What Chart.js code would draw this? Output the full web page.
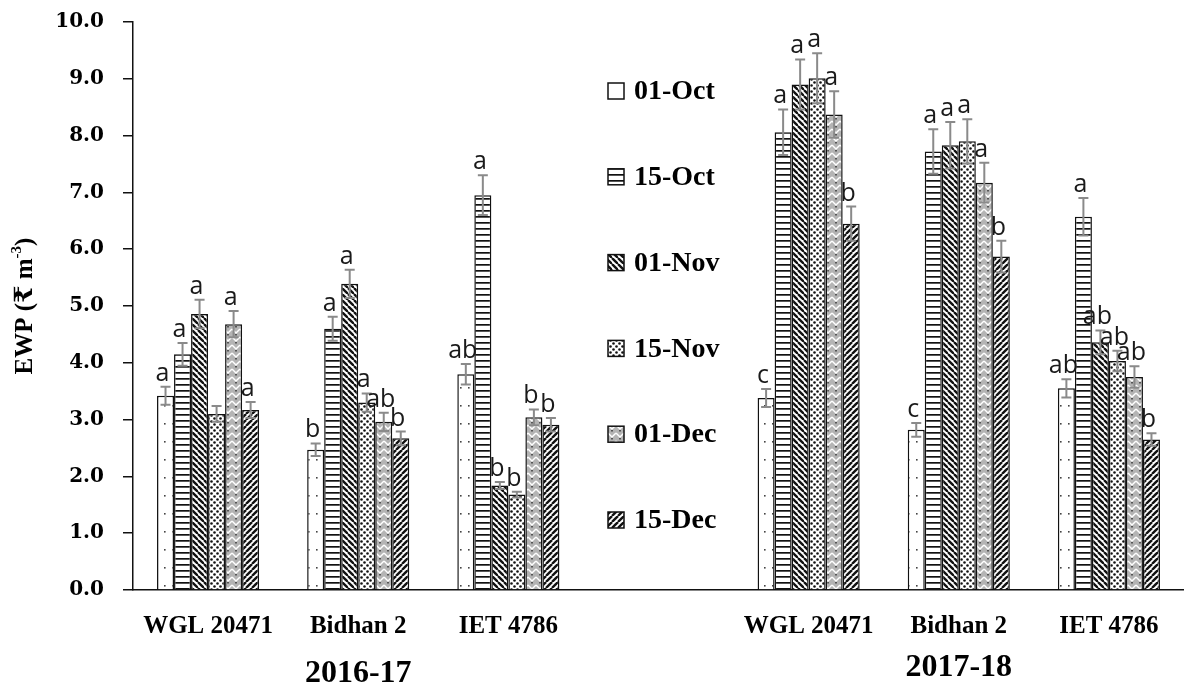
<!DOCTYPE html>
<html>
<head>
<meta charset="utf-8">
<script src="https://cdn.jsdelivr.net/npm/chart.js@4.4.1/dist/chart.umd.min.js"></script>
<style>
  html, body { margin: 0; padding: 0; background: #fff; }
  #grafico { display: block; }
</style>
</head>
<body>
<canvas id="grafico" width="1184" height="688"></canvas>
<script>
// categorias do eixo x (a posicao vazia separa os dois anos)
const categorias = ["WGL 20471", "Bidhan 2", "IET 4786", "", "WGL 20471", "Bidhan 2", "IET 4786"];
const datas = ["01-Oct", "15-Oct", "01-Nov", "15-Nov", "01-Dec", "15-Dec"];
const anos = ["2016-17", "2017-18"];
const ticksY = ["0.0", "1.0", "2.0", "3.0", "4.0", "5.0", "6.0", "7.0", "8.0", "9.0", "10.0"];

// EWP por data de semeadura
const ewp01Oct = [3.42, 2.47, 3.80, null, 3.38, 2.82, 3.55];
const ewp15Oct = [4.15, 4.60, 6.95, null, 8.06, 7.72, 6.57];
const ewp01Nov = [4.86, 5.39, 1.84, null, 8.90, 7.83, 4.36];
const ewp15Nov = [3.10, 3.30, 1.68, null, 9.01, 7.90, 4.03];
const ewp01Dec = [4.68, 2.96, 3.04, null, 8.37, 7.17, 3.75];
const ewp15Dec = [3.17, 2.67, 2.91, null, 6.45, 5.87, 2.65];

// barras de erro
const erro01Oct = [0.16, 0.11, 0.18, null, 0.16, 0.12, 0.16];
const erro15Oct = [0.20, 0.21, 0.35, null, 0.40, 0.39, 0.33];
const erro01Nov = [0.25, 0.25, 0.06, null, 0.44, 0.41, 0.21];
const erro15Nov = [0.14, 0.16, 0.05, null, 0.44, 0.39, 0.18];
const erro01Dec = [0.23, 0.16, 0.14, null, 0.41, 0.35, 0.19];
const erro15Dec = [0.14, 0.12, 0.12, null, 0.30, 0.28, 0.11];

// letras de significancia
const letras01Oct = ["a", "b", "ab", "", "c", "c", "ab"];
const letras15Oct = ["a", "a", "a", "", "a", "a", "a"];
const letras01Nov = ["a", "a", "b", "", "a", "a", "ab"];
const letras15Nov = ["", "a", "b", "", "a", "a", "ab"];
const letras01Dec = ["a", "ab", "b", "", "a", "a", "ab"];
const letras15Dec = ["a", "b", "b", "", "b", "b", "b"];

const valores = [ewp01Oct, ewp15Oct, ewp01Nov, ewp15Nov, ewp01Dec, ewp15Dec];
const erros = [erro01Oct, erro15Oct, erro01Nov, erro15Nov, erro01Dec, erro15Dec];
const letras = [letras01Oct, letras15Oct, letras01Nov, letras15Nov, letras01Dec, letras15Dec];

const canvas = document.getElementById("grafico");
const ctxPrincipal = canvas.getContext("2d");

function criarPadrao(tipo) {
  const c = document.createElement("canvas");
  const g = c.getContext("2d");
  if (tipo === "pontosRaros") {
    c.width = 8; c.height = 18;
    g.fillStyle = "#fff"; g.fillRect(0, 0, 8, 18);
    g.fillStyle = "#444"; g.fillRect(4, 9, 1.6, 1.6);
  } else if (tipo === "linhasH") {
    c.width = 6; c.height = 6;
    g.fillStyle = "#fff"; g.fillRect(0, 0, 6, 6);
    g.fillStyle = "#111"; g.fillRect(0, 0, 6, 1.7);
  } else if (tipo === "diagonalDesce") {
    c.width = 6; c.height = 6;
    g.fillStyle = "#fff"; g.fillRect(0, 0, 6, 6);
    g.strokeStyle = "#111"; g.lineWidth = 2.4;
    [-6, 0, 6].forEach((x) => {
      g.beginPath(); g.moveTo(x, 0); g.lineTo(x + 6, 6); g.stroke();
    });
  } else if (tipo === "pontosDensos") {
    c.width = 6; c.height = 6;
    g.fillStyle = "#fff"; g.fillRect(0, 0, 6, 6);
    g.fillStyle = "#111";
    g.beginPath(); g.arc(1.5, 1.5, 1.3, 0, Math.PI * 2); g.fill();
    g.beginPath(); g.arc(4.5, 4.5, 1.3, 0, Math.PI * 2); g.fill();
  } else if (tipo === "trama") {
    c.width = 8; c.height = 8;
    g.fillStyle = "#b4b4b4"; g.fillRect(0, 0, 8, 8);
    g.strokeStyle = "#fff"; g.lineWidth = 1.5;
    g.beginPath(); g.moveTo(0, 1); g.lineTo(4, 5); g.lineTo(8, 1); g.stroke();
    g.fillStyle = "#555"; g.fillRect(3, 6, 2, 1.5);
  } else if (tipo === "diagonalSobe") {
    c.width = 6; c.height = 6;
    g.fillStyle = "#fff"; g.fillRect(0, 0, 6, 6);
    g.strokeStyle = "#111"; g.lineWidth = 2.4;
    [-6, 0, 6].forEach((x) => {
      g.beginPath(); g.moveTo(x, 6); g.lineTo(x + 6, 0); g.stroke();
    });
  }
  return ctxPrincipal.createPattern(c, "repeat");
}

const padroes = [
  criarPadrao("pontosRaros"),
  criarPadrao("linhasH"),
  criarPadrao("diagonalDesce"),
  criarPadrao("pontosDensos"),
  criarPadrao("trama"),
  criarPadrao("diagonalSobe"),
];

const fonteSerif = "'Liberation Serif', 'DejaVu Serif', serif";

const desenhoExtra = {
  id: "desenhoExtra",
  afterDatasetsDraw(chart) {
    const ctx = chart.ctx;
    const escalaY = chart.scales.y;
    ctx.save();
    chart.data.datasets.forEach((ds, d) => {
      const meta = chart.getDatasetMeta(d);
      meta.data.forEach((barra, i) => {
        const v = ds.data[i];
        if (v === null || v === undefined) return;
        const e = erros[d][i];
        const x = barra.x;
        const yTopo = escalaY.getPixelForValue(v + e);
        const yBase = escalaY.getPixelForValue(v - e);
        ctx.strokeStyle = "#8a8a8a";
        ctx.lineWidth = 2;
        ctx.beginPath();
        ctx.moveTo(x, yTopo); ctx.lineTo(x, yBase);
        ctx.moveTo(x - 5, yTopo); ctx.lineTo(x + 5, yTopo);
        ctx.moveTo(x - 5, yBase); ctx.lineTo(x + 5, yBase);
        ctx.stroke();

        const letra = letras[d][i];
        if (letra) {
          ctx.fillStyle = "#1a1a1a";
          ctx.font = "25px 'Open Sans', sans-serif";
          ctx.textAlign = "center";
          ctx.textBaseline = "alphabetic";
          ctx.fillText(letra, x - 3, yTopo - 6);
        }
      });
    });
    ctx.restore();
  },
  afterDraw(chart) {
    const ctx = chart.ctx;
    const area = chart.chartArea;
    const escalaX = chart.scales.x;
    ctx.save();

    // legenda
    ctx.font = "bold 28px " + fonteSerif;
    ctx.textAlign = "left";
    ctx.textBaseline = "middle";
    datas.forEach((nome, k) => {
      const yc = 91 + k * 85.8;
      ctx.fillStyle = padroes[k];
      ctx.fillRect(608, yc - 8, 16, 16);
      ctx.strokeStyle = "#111";
      ctx.lineWidth = 1.5;
      ctx.strokeRect(608, yc - 8, 16, 16);
      ctx.fillStyle = "#000";
      ctx.fillText(nome, 634, yc + 1);
    });

    // anos abaixo dos cultivares
    ctx.font = "bold 32px " + fonteSerif;
    ctx.textAlign = "center";
    ctx.textBaseline = "middle";
    ctx.fillText(anos[0], escalaX.getPixelForValue(1), 674);
    ctx.fillText(anos[1], escalaX.getPixelForValue(5), 668);

    // titulo do eixo y com expoente
    ctx.translate(26, (area.top + area.bottom) / 2);
    ctx.rotate(-Math.PI / 2);
    const fonteTitulo = "bold 25px " + fonteSerif;
    const fonteExp = "bold 15px " + fonteSerif;
    const parte1 = "EWP (\u20B9 m";
    const parte2 = "-3";
    const parte3 = ")";
    ctx.font = fonteTitulo;
    const w1 = ctx.measureText(parte1).width;
    const w3 = ctx.measureText(parte3).width;
    ctx.font = fonteExp;
    const w2 = ctx.measureText(parte2).width;
    let xi = -(w1 + w2 + w3) / 2;
    ctx.textAlign = "left";
    ctx.textBaseline = "middle";
    ctx.font = fonteTitulo;
    ctx.fillText(parte1, xi, 0);
    xi += w1;
    ctx.font = fonteExp;
    ctx.fillText(parte2, xi, -9);
    xi += w2;
    ctx.font = fonteTitulo;
    ctx.fillText(parte3, xi, 0);
    ctx.restore();
  },
};

new Chart(ctxPrincipal, {
  type: "bar",
  data: {
    labels: categorias,
    datasets: datas.map((nome, k) => ({
      label: nome,
      data: valores[k],
      backgroundColor: padroes[k],
      borderColor: "#111",
      borderWidth: 1.5,
      categoryPercentage: 0.68,
      barPercentage: 1.0,
    })),
  },
  options: {
    responsive: false,
    animation: false,
    devicePixelRatio: 1,
    layout: {
      padding: { top: 22, right: 0, bottom: 0, left: 0 },
    },
    plugins: {
      legend: { display: false },
      tooltip: { enabled: false },
    },
    scales: {
      x: {
        grid: { display: false },
        border: { display: true, color: "#111", width: 1.5 },
        ticks: {
          color: "#000",
          padding: 14,
          maxRotation: 0,
          autoSkip: false,
          font: { family: fonteSerif, size: 25, weight: "bold" },
        },
        afterFit(scale) {
          scale.height = 98;
          scale.paddingLeft = 0;
          scale.paddingRight = 0;
        },
      },
      y: {
        min: 0,
        max: 10,
        ticks: {
          stepSize: 1,
          color: "#000",
          padding: 19,
          font: { family: "'DejaVu Serif', serif", size: 20, weight: "bold" },
          callback: (valor, i) => ticksY[i],
        },
        grid: {
          drawOnChartArea: false,
          tickLength: 10,
          color: "#111",
          lineWidth: 1.5,
        },
        border: { display: true, color: "#111", width: 1.5 },
        afterFit(scale) {
          scale.width = 133;
          scale.paddingTop = 0;
          scale.paddingBottom = 0;
        },
      },
    },
  },
  plugins: [desenhoExtra],
});
</script>
</body>
</html>
